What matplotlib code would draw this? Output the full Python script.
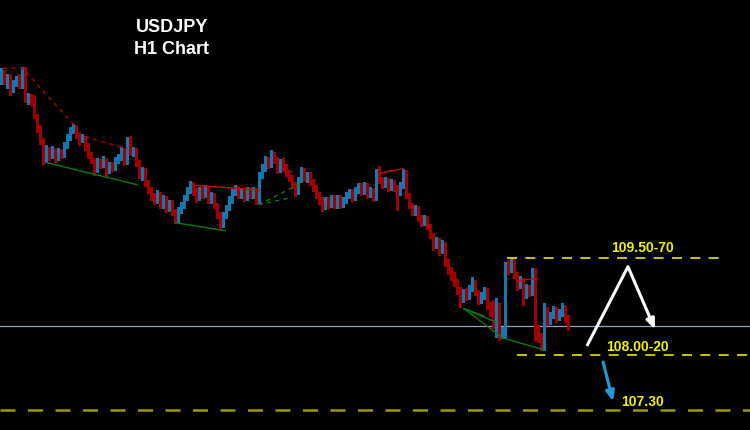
"""
USDJPY H1 图
============
黑底 K 线 + 趋势线 + 目标位标注
"""

import matplotlib
matplotlib.use('Agg')
import matplotlib.pyplot as plt
import numpy as np


# K 线数据 (H1)
opens = [112.30, 112.42, 112.30, 112.36, 112.18, 112.27, 112.33, 112.23, 112.45, 112.00,
         112.06, 112.00, 111.76, 111.58, 111.40, 111.10, 111.25, 111.16, 111.25, 111.13,
         111.22, 111.18, 111.33, 111.43, 111.55, 111.60, 111.48, 111.40, 111.43, 111.33,
         111.18, 111.10, 110.95, 111.07, 111.03, 111.10, 110.95, 111.03, 110.98, 111.10,
         111.13, 111.25, 111.07, 111.40, 111.22, 111.25, 111.07, 110.88, 110.95, 110.76,
         110.65, 110.56, 110.50, 110.59, 110.43, 110.53, 110.38, 110.46, 110.32, 110.20,
         110.35, 110.43, 110.53, 110.65, 110.74, 110.62, 110.53, 110.65, 110.58, 110.68,
         110.50, 110.58, 110.43, 110.28, 110.13, 110.28, 110.38, 110.50, 110.62, 110.68,
         110.58, 110.62, 110.53, 110.65, 110.58, 110.65, 110.50, 110.88, 110.98, 111.10,
         111.03, 111.18, 111.10, 110.95, 111.07, 110.98, 110.92, 110.83, 110.73, 110.62,
         110.80, 110.95, 110.83, 110.88, 110.77, 110.68, 110.58, 110.50, 110.41, 110.50,
         110.43, 110.53, 110.43, 110.53, 110.43, 110.50, 110.58, 110.62, 110.53, 110.65,
         110.71, 110.62, 110.73, 110.58, 110.65, 110.53, 110.92, 110.80, 110.73, 110.80,
         110.68, 110.77, 110.68, 110.62, 110.73, 110.92, 110.58, 110.43, 110.32, 110.38,
         110.23, 110.17, 110.23, 110.11, 109.98, 109.83, 109.90, 109.75, 109.84, 109.57,
         109.45, 109.38, 109.27, 109.15, 109.03, 109.12, 109.06, 109.18, 109.27, 109.12,
         109.00, 109.06, 109.15, 108.93, 108.82, 108.61, 108.93, 108.48, 108.55, 109.53,
         109.45, 109.60, 109.38, 109.23, 109.30, 109.08, 109.18, 109.12, 109.42, 108.55,
         108.43, 108.31, 108.85, 108.70, 108.78, 108.85, 108.73, 108.82, 108.91, 108.73]

highs = [112.48, 112.45, 112.39, 112.39, 112.30, 112.36, 112.39, 112.50, 112.50, 112.11,
         112.09, 112.08, 111.79, 111.63, 111.43, 111.33, 111.30, 111.31, 111.28, 111.28,
         111.27, 111.37, 111.49, 111.60, 111.64, 111.63, 111.52, 111.49, 111.46, 111.36,
         111.22, 111.13, 111.13, 111.12, 111.16, 111.13, 111.07, 111.07, 111.15, 111.19,
         111.30, 111.28, 111.45, 111.46, 111.30, 111.28, 111.10, 111.00, 110.98, 110.80,
         110.70, 110.61, 110.65, 110.62, 110.58, 110.56, 110.50, 110.50, 110.37, 110.40,
         110.47, 110.58, 110.70, 110.79, 110.77, 110.68, 110.70, 110.71, 110.73, 110.71,
         110.62, 110.61, 110.46, 110.32, 110.32, 110.43, 110.56, 110.67, 110.73, 110.71,
         110.67, 110.65, 110.70, 110.70, 110.70, 110.68, 110.92, 111.04, 111.16, 111.15,
         111.25, 111.22, 111.15, 111.12, 111.13, 111.04, 110.95, 110.88, 110.77, 110.85,
         111.00, 110.98, 110.92, 110.92, 110.82, 110.73, 110.62, 110.55, 110.55, 110.55,
         110.58, 110.58, 110.58, 110.58, 110.55, 110.62, 110.67, 110.67, 110.70, 110.76,
         110.76, 110.77, 110.76, 110.70, 110.68, 110.97, 111.01, 110.85, 110.85, 110.83,
         110.82, 110.80, 110.73, 110.77, 110.97, 110.95, 110.61, 110.46, 110.43, 110.41,
         110.28, 110.28, 110.26, 110.14, 110.01, 109.95, 109.93, 109.90, 109.87, 109.62,
         109.50, 109.42, 109.32, 109.20, 109.17, 109.18, 109.23, 109.35, 109.30, 109.15,
         109.12, 109.20, 109.18, 108.97, 109.00, 109.03, 108.96, 108.60, 109.57, 109.60,
         109.65, 109.63, 109.42, 109.36, 109.33, 109.24, 109.23, 109.48, 109.48, 108.63,
         108.51, 108.96, 108.90, 108.82, 108.91, 108.90, 108.87, 108.96, 108.93, 108.78]

lows = [112.24, 112.24, 112.18, 112.08, 112.12, 112.21, 112.18, 112.18, 111.97, 111.94,
        111.93, 111.73, 111.52, 111.34, 111.04, 111.07, 111.10, 111.13, 111.07, 111.10,
        111.13, 111.15, 111.28, 111.40, 111.51, 111.43, 111.33, 111.37, 111.25, 111.13,
        111.06, 110.88, 110.92, 110.98, 111.00, 110.85, 110.91, 110.94, 110.95, 111.06,
        111.10, 111.03, 111.04, 111.18, 111.16, 111.01, 110.83, 110.80, 110.71, 110.61,
        110.50, 110.44, 110.46, 110.38, 110.38, 110.32, 110.34, 110.28, 110.16, 110.17,
        110.31, 110.38, 110.50, 110.61, 110.58, 110.47, 110.50, 110.53, 110.55, 110.46,
        110.46, 110.38, 110.23, 110.07, 110.10, 110.23, 110.35, 110.46, 110.58, 110.53,
        110.53, 110.49, 110.50, 110.53, 110.53, 110.44, 110.46, 110.83, 110.94, 110.98,
        111.00, 111.06, 110.91, 110.92, 110.94, 110.86, 110.79, 110.68, 110.56, 110.59,
        110.77, 110.79, 110.77, 110.73, 110.64, 110.53, 110.44, 110.34, 110.37, 110.38,
        110.40, 110.38, 110.38, 110.38, 110.40, 110.46, 110.53, 110.49, 110.50, 110.61,
        110.58, 110.59, 110.53, 110.55, 110.49, 110.50, 110.76, 110.68, 110.70, 110.64,
        110.65, 110.64, 110.35, 110.58, 110.68, 110.53, 110.38, 110.28, 110.28, 110.19,
        110.11, 110.13, 110.07, 109.93, 109.75, 109.78, 109.68, 109.71, 109.51, 109.39,
        109.30, 109.21, 109.09, 108.90, 108.97, 109.00, 109.02, 109.14, 109.08, 108.94,
        108.96, 109.02, 108.87, 108.76, 108.58, 108.45, 108.40, 108.43, 108.45, 109.39,
        109.42, 109.33, 109.15, 109.18, 108.93, 109.03, 109.06, 109.08, 108.40, 108.37,
        108.25, 108.25, 108.63, 108.64, 108.73, 108.67, 108.70, 108.76, 108.67, 108.55]

closes = [112.42, 112.30, 112.36, 112.18, 112.27, 112.33, 112.23, 112.45, 112.00, 112.06,
          112.00, 111.76, 111.58, 111.40, 111.10, 111.25, 111.16, 111.25, 111.13, 111.22,
          111.18, 111.33, 111.43, 111.55, 111.60, 111.48, 111.40, 111.43, 111.33, 111.18,
          111.10, 110.95, 111.07, 111.03, 111.10, 110.95, 111.03, 110.98, 111.10, 111.13,
          111.25, 111.07, 111.40, 111.22, 111.25, 111.07, 110.88, 110.95, 110.76, 110.65,
          110.56, 110.50, 110.59, 110.43, 110.53, 110.38, 110.46, 110.32, 110.20, 110.35,
          110.43, 110.53, 110.65, 110.74, 110.62, 110.53, 110.65, 110.58, 110.68, 110.50,
          110.58, 110.43, 110.28, 110.13, 110.28, 110.38, 110.50, 110.62, 110.68, 110.58,
          110.62, 110.53, 110.65, 110.58, 110.65, 110.50, 110.88, 110.98, 111.10, 111.03,
          111.18, 111.10, 110.95, 111.07, 110.98, 110.92, 110.83, 110.73, 110.62, 110.80,
          110.95, 110.83, 110.88, 110.77, 110.68, 110.58, 110.50, 110.41, 110.50, 110.43,
          110.53, 110.43, 110.53, 110.43, 110.50, 110.58, 110.62, 110.53, 110.65, 110.71,
          110.62, 110.73, 110.58, 110.65, 110.53, 110.92, 110.80, 110.73, 110.80, 110.68,
          110.77, 110.68, 110.62, 110.73, 110.92, 110.58, 110.43, 110.32, 110.38, 110.23,
          110.17, 110.23, 110.11, 109.98, 109.83, 109.90, 109.75, 109.84, 109.57, 109.45,
          109.38, 109.27, 109.15, 109.03, 109.12, 109.06, 109.18, 109.27, 109.12, 109.00,
          109.06, 109.15, 108.93, 108.82, 108.61, 108.93, 108.48, 108.55, 109.53, 109.45,
          109.60, 109.38, 109.23, 109.30, 109.08, 109.18, 109.12, 109.42, 108.55, 108.43,
          108.31, 108.85, 108.70, 108.78, 108.85, 108.73, 108.82, 108.91, 108.73, 108.63]

# 趋势线 (bar 序号, 价格)
red_dashed = [[(0.7, 112.48), (7, 112.48), (24.5, 111.62)],
              [(28, 111.45), (42, 111.27)]]
red_solid = [[(65, 110.72), (86, 110.65)],
             [(126, 110.90), (134, 110.97)],
             [(172, 109.29), (179, 109.32)]]
green_solid = [[(15.3, 111.06), (45.3, 110.73)],
               [(58, 110.16), (74.7, 110.04)],
               [(154.3, 108.87), (161, 108.76)],
               [(154.3, 108.87), (165, 108.67)],
               [(154.3, 108.87), (167.3, 108.43), (180.5, 108.26)]]
green_dashed = [[(86, 110.43), (100.3, 110.76)],
                [(86, 110.43), (97, 110.54)]]

# 关键价位
current_price = 108.61
upper_zone = 109.63
lower_zone = 108.18
target_price = 107.35
upper_label = '109.50-70'
lower_label = '108.00-20'
target_label = '107.30'

white_path = [(195.3, 108.31), (209.0, 109.50), (218.0, 108.56)]
blue_path = [(200.7, 108.07), (204.0, 107.48)]

BULL = '#1a8fd0'
BULL_WICK = '#1478b0'
BEAR = '#d00000'
BEAR_WICK = '#a00000'
YELLOW = '#e6e600'


def draw_candles(ax, o, h, l, c, width=0.6):
    o, h, l, c = map(np.asarray, (o, h, l, c))
    x = np.arange(len(o))
    up = c >= o
    wick_colors = np.where(up, BULL_WICK, BEAR_WICK)
    ax.vlines(x, l, h, colors=wick_colors, linewidth=1.0, antialiased=False)
    body_colors = np.where(up, BULL, BEAR)
    bottom = np.minimum(o, c)
    height = np.maximum(np.abs(c - o), 0.008)
    ax.bar(x, height, bottom=bottom, width=width, color=body_colors,
           linewidth=0, antialiased=False)


def draw_lines(ax, lines, **kw):
    for pts in lines:
        xs, ys = zip(*pts)
        ax.plot(xs, ys, **kw)


fig = plt.figure(figsize=(7.5, 4.3), dpi=100, facecolor='black')
ax = fig.add_axes([0, 0, 1, 1])
ax.set_facecolor('black')
ax.set_xlim(-0.33, 249.67)
ax.set_ylim(107.05, 113.50)
ax.axis('off')

# 当前价
ax.axhline(current_price, color='#8fa4c0', linewidth=0.9, zorder=1)

draw_candles(ax, opens, highs, lows, closes)

# 趋势线
draw_lines(ax, red_dashed, color='#b00000', linewidth=1.0, dashes=(3, 3))
draw_lines(ax, red_solid, color='#d00000', linewidth=1.0)
draw_lines(ax, green_solid, color='#0b7a0b', linewidth=1.0)
draw_lines(ax, green_dashed, color='#0b7a0b', linewidth=1.0, dashes=(3, 3))

# 目标区域
ax.hlines(upper_zone, 168.7, 241.3, color=YELLOW, linewidth=1.2, linestyles=(0, (6, 5)))
ax.hlines(lower_zone, 172.0, 250.0, color=YELLOW, linewidth=1.2, linestyles=(0, (6, 5)))
ax.axhline(target_price, color='#9a9a00', linewidth=1.8, linestyle=(0, (6, 5)))

txt = dict(color='#f0f000', fontsize=10, fontweight='bold', ha='center',
           va='center', family='Liberation Sans')
ax.text(213.7, upper_zone + 0.15, upper_label, **txt)
ax.text(212.0, lower_zone + 0.12, lower_label, **txt)
ax.text(214.0, target_price + 0.12, target_label, **txt)

# 预期走势箭头
xs, ys = zip(*white_path)
ax.plot(xs[:2], ys[:2], color='white', linewidth=2.2, solid_capstyle='butt')
ax.annotate('', xy=white_path[2], xytext=white_path[1],
            arrowprops=dict(arrowstyle='-|>,head_length=0.6,head_width=0.25',
                            color='white', lw=2.2, shrinkA=0, shrinkB=0))
ax.annotate('', xy=blue_path[1], xytext=blue_path[0],
            arrowprops=dict(arrowstyle='-|>,head_length=0.6,head_width=0.25',
                            color='#1e9ad6', lw=2.2, shrinkA=0, shrinkB=0))

# 标题
title = dict(color='white', fontsize=13, fontweight='bold', ha='center',
             va='center', family='Liberation Sans')
fig.text(0.229, 0.937, 'USDJPY', **title)
fig.text(0.229, 0.886, 'H1 Chart', **title)

plt.savefig('out.png', dpi=100, facecolor='black')
plt.close()
